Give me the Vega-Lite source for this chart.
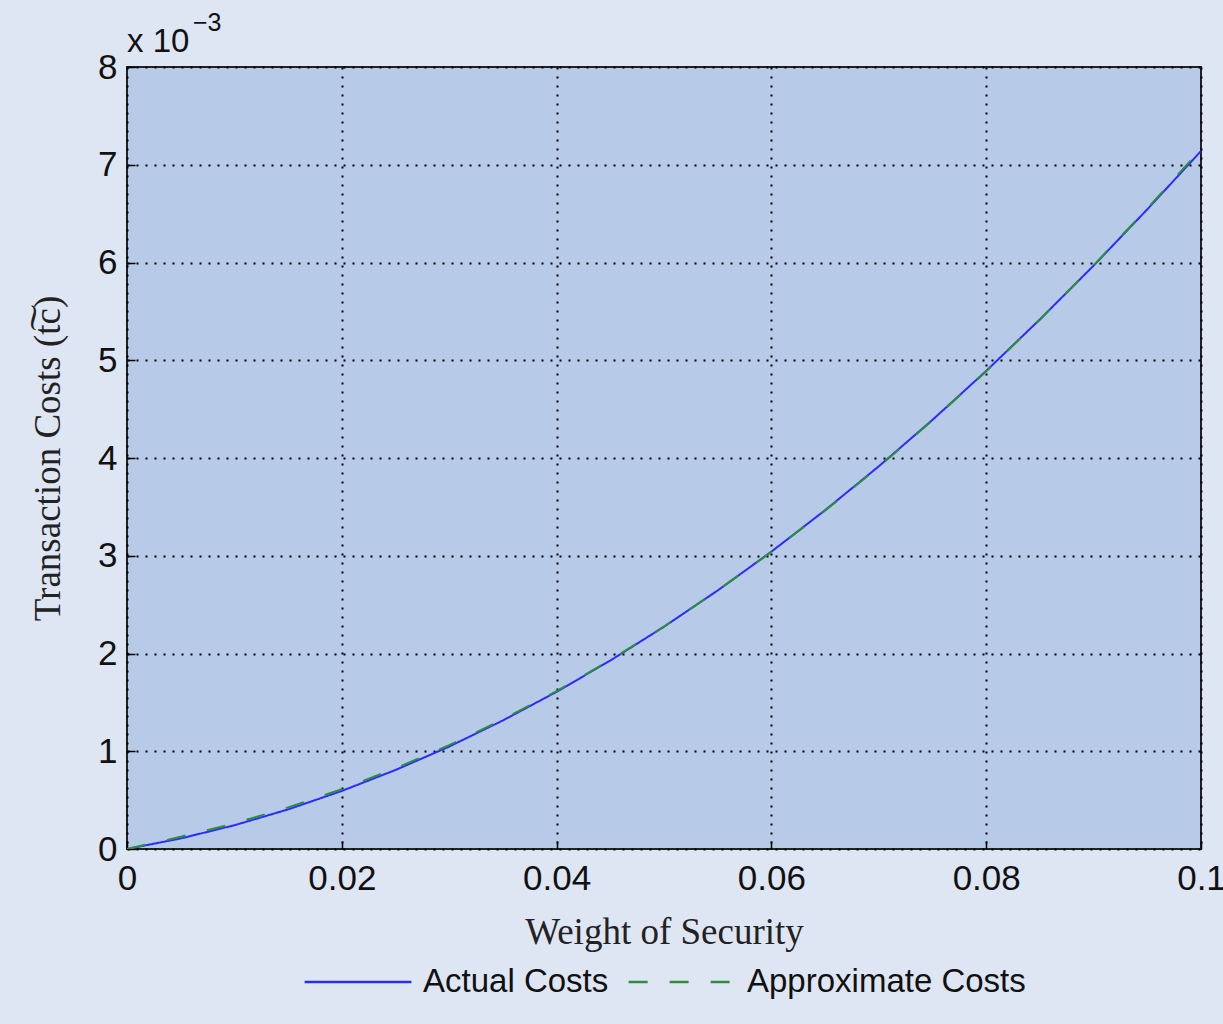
{
  "$schema": "https://vega.github.io/schema/vega-lite/v6.json",
  "width": 1074,
  "height": 782,
  "autosize": {"type": "none"},
  "padding": {"left": 127, "top": 67, "right": 22, "bottom": 175},
  "background": "#dfe6f3",
  "config": {
    "view": {"fill": "#b7cbe9", "stroke": "#222222", "strokeWidth": 2},
    "axis": {
      "labelFont": "Liberation Sans", "labelFontSize": 35, "labelColor": "#111111",
      "titleFont": "Liberation Serif", "titleFontSize": 37, "titleFontWeight": "normal", "titleColor": "#222222",
      "grid": true, "gridColor": "#000000", "gridDash": [2, 7], "gridWidth": 2, "gridOpacity": 1,
      "domain": false, "tickColor": "#000000", "tickSize": -8, "tickWidth": 1.5
    }
  },
  "datasets": {
    "curves": [
      {"w": 0.0, "tc": 0.0, "series": "Actual Costs"},
      {"w": 0.005, "tc": 0.000108, "series": "Actual Costs"},
      {"w": 0.01, "tc": 0.000243, "series": "Actual Costs"},
      {"w": 0.015, "tc": 0.000405, "series": "Actual Costs"},
      {"w": 0.02, "tc": 0.000594, "series": "Actual Costs"},
      {"w": 0.025, "tc": 0.000808, "series": "Actual Costs"},
      {"w": 0.03, "tc": 0.001048, "series": "Actual Costs"},
      {"w": 0.035, "tc": 0.001315, "series": "Actual Costs"},
      {"w": 0.04, "tc": 0.001608, "series": "Actual Costs"},
      {"w": 0.045, "tc": 0.001928, "series": "Actual Costs"},
      {"w": 0.05, "tc": 0.002274, "series": "Actual Costs"},
      {"w": 0.055, "tc": 0.002645, "series": "Actual Costs"},
      {"w": 0.06, "tc": 0.003042, "series": "Actual Costs"},
      {"w": 0.065, "tc": 0.003466, "series": "Actual Costs"},
      {"w": 0.07, "tc": 0.003915, "series": "Actual Costs"},
      {"w": 0.075, "tc": 0.004390, "series": "Actual Costs"},
      {"w": 0.08, "tc": 0.004891, "series": "Actual Costs"},
      {"w": 0.085, "tc": 0.005418, "series": "Actual Costs"},
      {"w": 0.09, "tc": 0.005968, "series": "Actual Costs"},
      {"w": 0.095, "tc": 0.006544, "series": "Actual Costs"},
      {"w": 0.1, "tc": 0.007140, "series": "Actual Costs"},
      {"w": 0.0, "tc": 0.0, "series": "Approximate Costs"},
      {"w": 0.005, "tc": 0.000125, "series": "Approximate Costs"},
      {"w": 0.01, "tc": 0.000262, "series": "Approximate Costs"},
      {"w": 0.015, "tc": 0.000425, "series": "Approximate Costs"},
      {"w": 0.02, "tc": 0.000612, "series": "Approximate Costs"},
      {"w": 0.025, "tc": 0.000825, "series": "Approximate Costs"},
      {"w": 0.03, "tc": 0.001062, "series": "Approximate Costs"},
      {"w": 0.035, "tc": 0.001326, "series": "Approximate Costs"},
      {"w": 0.04, "tc": 0.001616, "series": "Approximate Costs"},
      {"w": 0.045, "tc": 0.001933, "series": "Approximate Costs"},
      {"w": 0.05, "tc": 0.002276, "series": "Approximate Costs"},
      {"w": 0.055, "tc": 0.002645, "series": "Approximate Costs"},
      {"w": 0.06, "tc": 0.003040, "series": "Approximate Costs"},
      {"w": 0.065, "tc": 0.003462, "series": "Approximate Costs"},
      {"w": 0.07, "tc": 0.003910, "series": "Approximate Costs"},
      {"w": 0.075, "tc": 0.004385, "series": "Approximate Costs"},
      {"w": 0.08, "tc": 0.004887, "series": "Approximate Costs"},
      {"w": 0.085, "tc": 0.005415, "series": "Approximate Costs"},
      {"w": 0.09, "tc": 0.005970, "series": "Approximate Costs"},
      {"w": 0.095, "tc": 0.006552, "series": "Approximate Costs"},
      {"w": 0.1, "tc": 0.007160, "series": "Approximate Costs"}
    ],
    "exponent": [{"w": 0.0, "tc": 0.008, "label": "x 10"}],
    "exponent2": [{"w": 0.0, "tc": 0.008, "label": "−3"}]
  },
  "layer": [
    {
      "data": {"name": "curves"},
      "mark": {"type": "line", "strokeWidth": 2, "clip": true},
      "encoding": {
        "x": {
          "field": "w", "type": "quantitative",
          "scale": {"domain": [0, 0.1], "nice": false, "zero": false},
          "axis": {"title": "Weight of Security", "values": [0, 0.02, 0.04, 0.06, 0.08, 0.1],
                   "labelExpr": "datum.value == 0 ? '0' : format(datum.value, '.2~f')",
                   "labelPadding": 20, "titlePadding": 18, "labelFlush": false}
        },
        "y": {
          "field": "tc", "type": "quantitative",
          "scale": {"domain": [0, 0.008], "nice": false},
          "axis": {"title": "Transaction Costs (t͠c)", "values": [0, 0.001, 0.002, 0.003, 0.004, 0.005, 0.006, 0.007, 0.008],
                   "labelExpr": "format(datum.value * 1000, 'd')", "labelPadding": 18, "titlePadding": 30, "labelFlush": false}
        },
        "color": {
          "field": "series", "type": "nominal",
          "scale": {"domain": ["Actual Costs", "Approximate Costs"], "range": ["#2b2bff", "#2e8f3a"]},
          "legend": {
            "title": null, "orient": "none", "direction": "horizontal",
            "legendX": 176, "legendY": 860,
            "labelFont": "Liberation Sans", "labelFontSize": 33, "labelColor": "#111111", "labelLimit": 0,
            "symbolType": "stroke", "symbolSize": 11400, "symbolStrokeWidth": 2.5,
            "columnPadding": 14, "labelOffset": 10, "padding": 0
          }
        },
        "strokeDash": {
          "field": "series", "type": "nominal",
          "scale": {"domain": ["Actual Costs", "Approximate Costs"], "range": [[1, 0], [19, 22]]},
          "legend": null
        },
        "order": {"field": "series", "sort": "descending"}
      }
    },
    {
      "data": {"name": "exponent"},
      "mark": {"type": "text", "font": "Liberation Sans", "fontSize": 33, "align": "left", "baseline": "bottom", "dx": 0, "dy": -8, "color": "#111111"},
      "encoding": {
        "x": {"field": "w", "type": "quantitative"},
        "y": {"field": "tc", "type": "quantitative"},
        "text": {"field": "label"}
      }
    },
    {
      "data": {"name": "exponent2"},
      "mark": {"type": "text", "font": "Liberation Sans", "fontSize": 25, "align": "left", "baseline": "bottom", "dx": 66, "dy": -31, "color": "#111111"},
      "encoding": {
        "x": {"field": "w", "type": "quantitative"},
        "y": {"field": "tc", "type": "quantitative"},
        "text": {"field": "label"}
      }
    }
  ]
}
